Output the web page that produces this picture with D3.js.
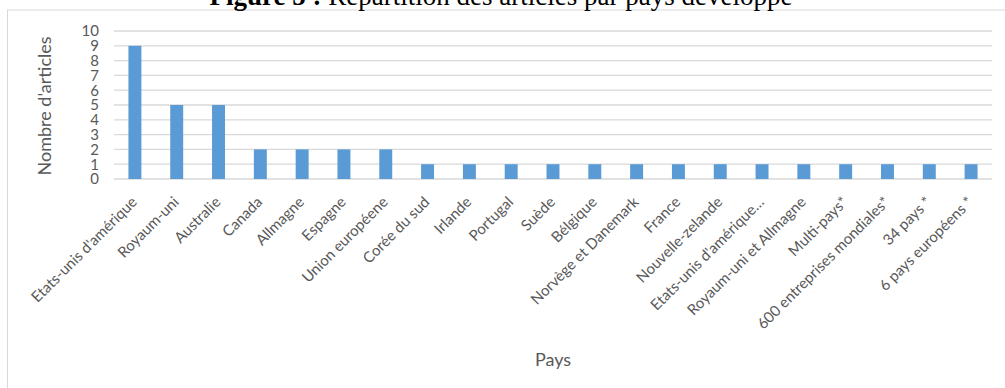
<!DOCTYPE html>
<html>
<head>
<meta charset="utf-8">
<script src="https://cdn.jsdelivr.net/npm/d3@7"></script>
<style>
  body { margin: 0; background: #fff; }
  svg { display: block; }
</style>
</head>
<body>
<script>
// Data
var pays = ["Etats-unis d'amérique", "Royaum-uni", "Australie", "Canada", "Allmagne", "Espagne",
  "Union européene", "Corée du sud", "Irlande", "Portugal", "Suède", "Bélgique",
  "Norvège et Danemark", "France", "Nouvelle-zelande", "Etats-unis d'amérique…",
  "Royaum-uni et Allmagne", "Multi-pays*", "600 entreprises mondiales*", "34 pays *", "6 pays européens *"];
var articles = [9, 5, 5, 2, 2, 2, 2, 1, 1, 1, 1, 1, 1, 1, 1, 1, 1, 1, 1, 1, 1];
var yTicks = [0, 1, 2, 3, 4, 5, 6, 7, 8, 9, 10];

var width = 1005, height = 388;
var plot = { left: 114, right: 992, top: 31, bottom: 179 };
var font = "Lato, 'Open Sans', sans-serif";

var svg = d3.select("body").append("svg")
  .attr("width", width)
  .attr("height", height);

// chart frame
svg.append("rect")
  .attr("x", 7.5).attr("y", 10)
  .attr("width", 1010).attr("height", 400)
  .attr("fill", "none")
  .attr("stroke", "#d9d9d9")
  .attr("stroke-width", 1);

// title (cut off at the top, as in the source)
var title = svg.append("text")
  .attr("x", 501).attr("y", 5)
  .attr("text-anchor", "middle")
  .style("font-family", "'Liberation Serif', 'Times New Roman', serif")
  .style("font-size", "27px")
  .attr("fill", "#000");
title.append("tspan").style("font-weight", "bold").text("Figure 5 : ");
title.append("tspan").text("Répartition des articles par pays développé");

var x = d3.scaleBand()
  .domain(pays)
  .range([plot.left, plot.right])
  .paddingInner(0.69)
  .paddingOuter(0.345);

var y = d3.scaleLinear()
  .domain([0, 10])
  .range([plot.bottom, plot.top]);

// gridlines
svg.append("g")
  .selectAll("line")
  .data(yTicks)
  .enter()
  .append("line")
  .attr("x1", plot.left).attr("x2", plot.right)
  .attr("y1", function(d) { return y(d); })
  .attr("y2", function(d) { return y(d); })
  .attr("stroke", "#d9d9d9")
  .attr("stroke-width", 1.3);

// bars
svg.append("g")
  .selectAll("rect")
  .data(articles)
  .enter()
  .append("rect")
  .attr("x", function(d, i) { return x(pays[i]); })
  .attr("y", function(d) { return y(d); })
  .attr("width", x.bandwidth())
  .attr("height", function(d) { return y(0) - y(d); })
  .attr("fill", "#5b9bd5");

// y axis labels
var yAxis = svg.append("g")
  .attr("transform", "translate(" + (plot.left - 15) + ",0)")
  .call(d3.axisLeft(y).tickValues(yTicks).tickSize(0).tickPadding(0));
yAxis.select(".domain").remove();
yAxis.selectAll("text")
  .style("font-family", font)
  .style("font-size", "15px")
  .attr("fill", "#595959");

// x axis labels
var xAxis = svg.append("g")
  .attr("transform", "translate(0," + plot.bottom + ")")
  .call(d3.axisBottom(x).tickSize(0).tickPadding(0));
xAxis.select(".domain").remove();
xAxis.selectAll("text")
  .attr("text-anchor", "end")
  .attr("dy", null)
  .attr("y", 0)
  .attr("transform", "translate(3,24) rotate(-45)")
  .style("font-family", font)
  .style("font-size", "15px")
  .attr("fill", "#595959");

// axis titles
svg.append("text")
  .attr("transform", "translate(51,106) rotate(-90)")
  .attr("text-anchor", "middle")
  .style("font-family", font)
  .style("font-size", "18px")
  .attr("fill", "#595959")
  .text("Nombre d'articles");

svg.append("text")
  .attr("x", (plot.left + plot.right) / 2)
  .attr("y", 366)
  .attr("text-anchor", "middle")
  .style("font-family", font)
  .style("font-size", "18px")
  .attr("fill", "#595959")
  .text("Pays");
</script>
</body>
</html>
